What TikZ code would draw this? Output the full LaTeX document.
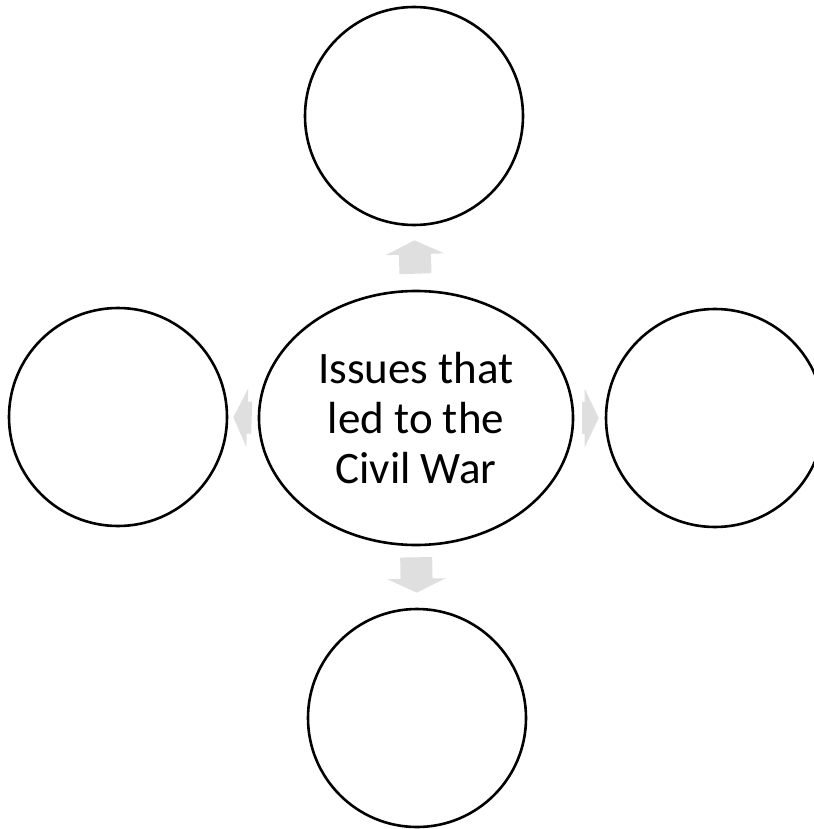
\documentclass[tikz,border=0pt]{standalone}
\usepackage{fontspec}
\setmainfont{Carlito}
\usetikzlibrary{arrows.meta,shapes.geometric}

\begin{document}
\begin{tikzpicture}[x=1pt,y=-1pt,line join=round,
  spoke/.style={circle,draw,line width=2.6pt,minimum size=218pt,inner sep=0pt},
  hub/.style={ellipse,draw,line width=2.6pt,minimum width=314pt,minimum height=254pt,inner sep=0pt,align=center,font=\fontsize{45}{50}\selectfont},
  link/.style={-{Triangle[length=14pt,width=58pt]},line width=32pt,line cap=butt,gray!25}]
\useasboundingbox (0,0) rectangle (813,829);
\node[hub] (hub) at (416,418) {Issues that\\led to the\\Civil War};
\node[spoke] (up) at (414,116) {};
\node[spoke] (down) at (417,718) {};
\node[spoke] (left) at (118,417) {};
\node[spoke] (right) at (715,418) {};
\draw[link,shorten <=16pt,shorten >=14pt] (hub.north) -- (up.south);
\draw[link,shorten <=11pt,shorten >=15pt] (hub.south) -- (down.north);
\draw[link,shorten <=6pt,shorten >=5pt] (hub.west) -- (left.east);
\draw[link,shorten <=8pt,shorten >=6pt] (hub.east) -- (right.west);
\end{tikzpicture}
\end{document}
